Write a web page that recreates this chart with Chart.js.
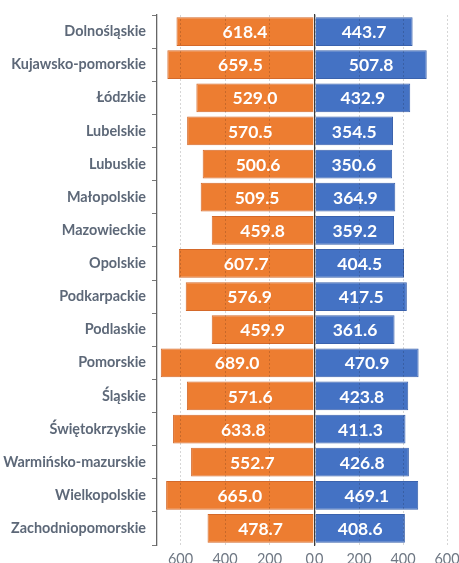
<!DOCTYPE html>
<html><head><meta charset="utf-8">
<script src="https://cdn.jsdelivr.net/npm/chart.js@4"></script>
<style>
html,body{margin:0;padding:0;background:#fff;overflow:hidden;}
#wrap{position:relative;width:459px;height:563px;overflow:hidden;}
#left{position:absolute;left:0;top:0;}
#right{position:absolute;left:300px;top:0;}
</style></head><body>
<div id="wrap"><canvas id="left" width="330" height="563"></canvas><canvas id="right" width="180" height="563"></canvas></div>
<script>
const categories = ['Dolnośląskie','Kujawsko-pomorskie','Łódzkie','Lubelskie','Lubuskie','Małopolskie','Mazowieckie','Opolskie','Podkarpackie','Podlaskie','Pomorskie','Śląskie','Świętokrzyskie','Warmińsko-mazurskie','Wielkopolskie','Zachodniopomorskie'];
const leftValues = [618.4,659.5,529.0,570.5,500.6,509.5,459.8,607.7,576.9,459.9,689.0,571.6,633.8,552.7,665.0,478.7];
const rightValues = [443.7,507.8,432.9,354.5,350.6,364.9,359.2,404.5,417.5,361.6,470.9,423.8,411.3,426.8,469.1,408.6];
const leftTicks = [0,200,400,600];
const rightTicks = [0,200,400,600];
const leftMax = 706;
const rightMax = 650;

const FONT = 'Lato';

const barLabels = {
  id:'barLabels',
  afterDraw(chart){
    const ctx = chart.ctx; ctx.save();
    ctx.font = 'bold 17.5px ' + FONT; ctx.fillStyle = '#fff';
    ctx.textAlign = 'center'; ctx.textBaseline = 'middle';
    const ds = chart.data.datasets[0];
    chart.getDatasetMeta(0).data.forEach((el,i)=>{
      ctx.fillText(ds.data[i].toFixed(1), (el.x+el.base)/2, el.y+1);
    });
    ctx.restore();
  }
};

Chart.defaults.font.family = FONT;
Chart.defaults.animation = false;

function xScale(ticks, max, reverse){
  return {
    type:'linear', min:0, max:max, reverse:reverse,
    afterBuildTicks(s){ s.ticks = ticks.concat([max]).map(v=>({value:v})); },
    afterFit(s){ s.height = 18; },
    grid:{color:(c)=> (c.tick && c.tick.value === max) ? 'rgba(0,0,0,0)' : 'rgba(0,0,0,0.16)', lineWidth:1, drawTicks:false, z:1},
    border:{display:false, dash:[2,2]},
    ticks:{font:{size:14.5}, color:'#6f7884', padding:6, align:'inner', callback:(v)=> v === max ? '' : String(v)}
  };
}

new Chart(document.getElementById('left'), {
  type:'bar',
  data:{labels:categories, datasets:[{data:leftValues, backgroundColor:'#ED7D31', borderColor:'#D4692A', borderWidth:1, barPercentage:0.87, categoryPercentage:1}]},
  options:{
    responsive:false, indexAxis:'y',
    layout:{padding:{top:15, right:16, left:0, bottom:0}},
    plugins:{legend:{display:false}, tooltip:{enabled:false}},
    scales:{
      x: xScale(leftTicks, leftMax, true),
      y:{
        afterFit(s){ s.width = 157; },
        grid:{drawOnChartArea:false, drawTicks:true, tickLength:5, color:'#777'},
        border:{display:true, color:'#666', width:1.3},
        ticks:{font:{size:14.4, weight:'bold'}, color:'#5d6878', padding:6}
      }
    }
  },
  plugins:[barLabels]
});

new Chart(document.getElementById('right'), {
  type:'bar',
  data:{labels:categories, datasets:[{data:rightValues, backgroundColor:'#4472C4', borderColor:'#3A62AD', borderWidth:1, barPercentage:0.87, categoryPercentage:1}]},
  options:{
    responsive:false, indexAxis:'y',
    layout:{padding:{top:15, right:22, left:0, bottom:0}},
    plugins:{legend:{display:false}, tooltip:{enabled:false}},
    scales:{
      x: xScale(rightTicks, rightMax, false),
      y:{
        z:2,
        afterFit(s){ s.width = 15; },
        grid:{drawOnChartArea:false, drawTicks:false},
        border:{display:true, color:'#3a3a3a', width:1.2},
        ticks:{display:false}
      }
    }
  },
  plugins:[barLabels]
});
</script>
</body></html>
